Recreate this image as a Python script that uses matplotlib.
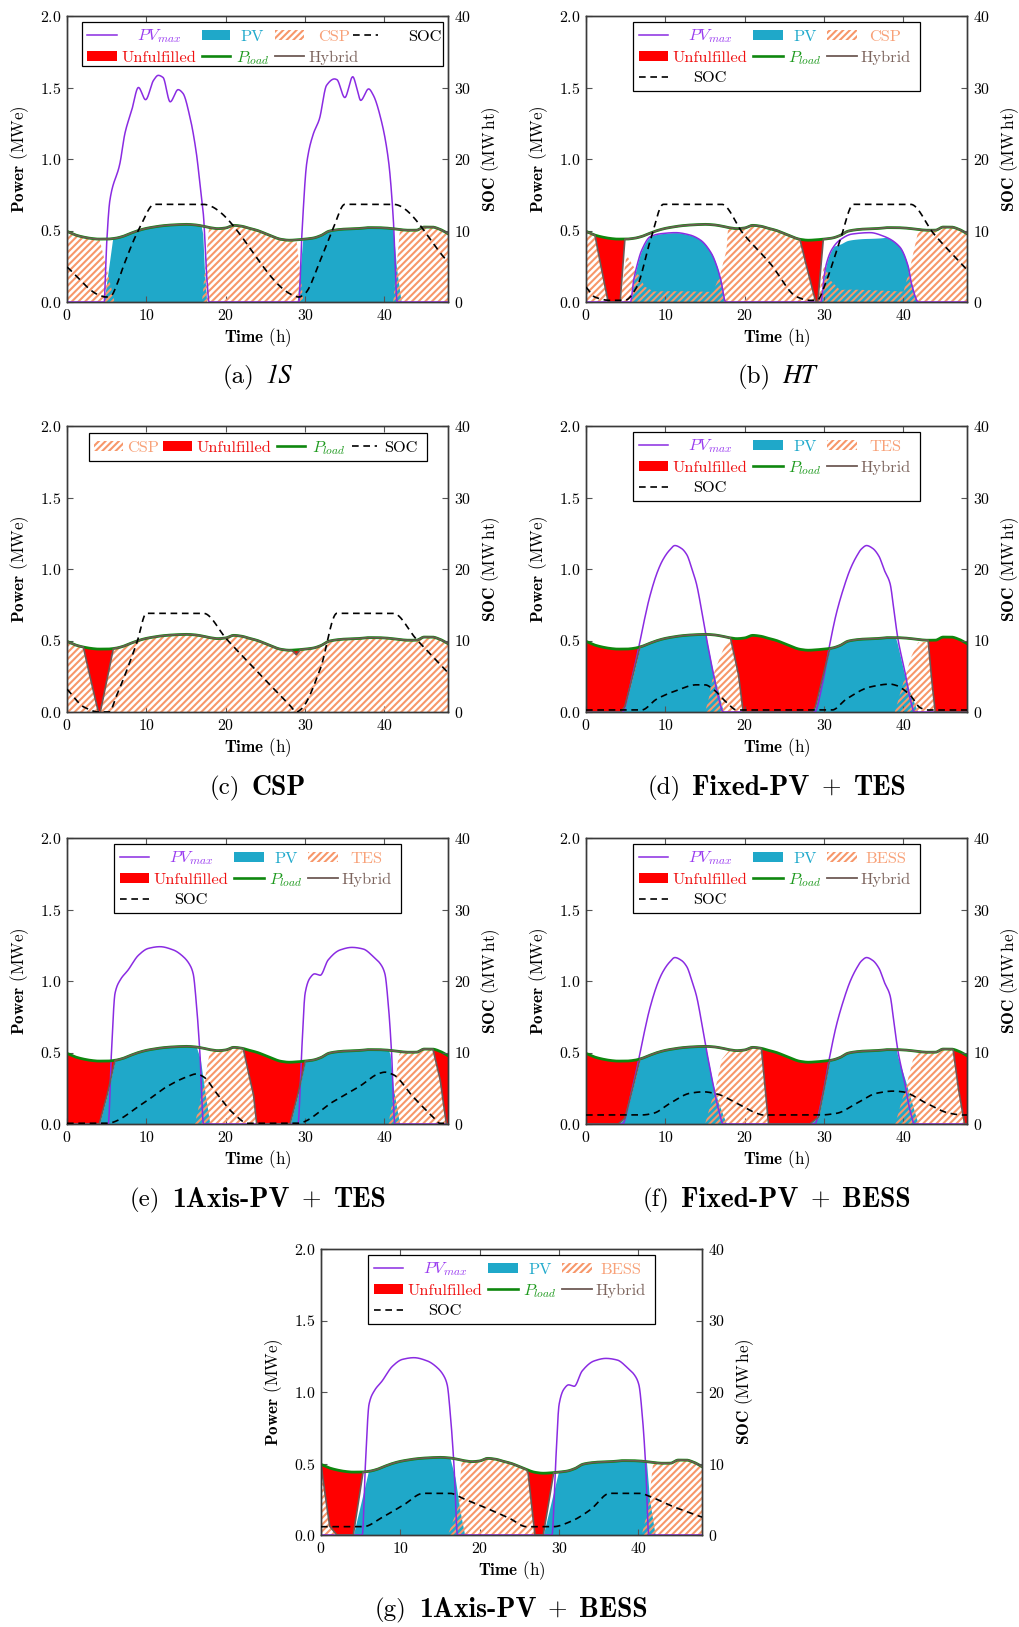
import numpy as np
import matplotlib
matplotlib.use('Agg')
import matplotlib.pyplot as plt
from matplotlib.patches import Rectangle
from matplotlib.lines import Line2D
from matplotlib.offsetbox import TextArea, HPacker, AnchoredOffsetbox

plt.rcParams.update({
    'font.family': 'cmr10',
    'mathtext.fontset': 'cm',
    'axes.formatter.use_mathtext': True,
    'axes.unicode_minus': False,
    'hatch.linewidth': 1.5,
})

# ---------------- data ----------------
HOURS = list(range(49))
LOAD = [0.494, 0.47, 0.455, 0.445, 0.44, 0.44, 0.445, 0.458, 0.48, 0.50, 0.515, 0.525,
        0.533, 0.538, 0.541, 0.543, 0.54, 0.532, 0.52, 0.513, 0.518, 0.536, 0.53, 0.515,
        0.50, 0.478, 0.455, 0.438, 0.432, 0.435, 0.44, 0.447, 0.465, 0.495, 0.505, 0.51,
        0.512, 0.515, 0.52, 0.52, 0.518, 0.513, 0.506, 0.502, 0.502, 0.524, 0.524, 0.508, 0.478]

# available PV power (MWe), (hour, value)
PVMAX_1S = [(0, 0), (4.7, 0), (4.8, 0.13), (5.0, 0.41), (5.4, 0.71), (6.67, 0.97), (7.3, 1.18),
            (8.15, 1.34), (9.0, 1.50), (9.9, 1.415), (10.9, 1.55), (11.5, 1.585), (12.1, 1.57),
            (13.0, 1.40), (14.0, 1.485), (14.6, 1.46), (15.5, 1.29), (16.3, 1.04), (16.8, 0.80),
            (17.2, 0.60), (17.6, 0.18), (17.9, 0),
            (29.2, 0), (29.6, 0.48), (30.2, 0.97), (31.0, 1.17), (31.8, 1.28), (32.7, 1.515),
            (33.7, 1.56), (34.0, 1.555), (35.0, 1.43), (36.0, 1.575), (36.5, 1.50), (37.0, 1.41),
            (38.0, 1.49), (38.6, 1.445), (39.5, 1.29), (40.5, 0.99), (41.1, 0.59), (41.6, 0), (48, 0)]
PVMAX_HT = [(0, 0), (5.6, 0), (6.0, 0.15), (6.4, 0.25), (7.0, 0.36), (8.1, 0.457), (9.5, 0.478),
            (11.3, 0.485), (13.0, 0.47), (14.4, 0.434), (15.8, 0.34), (16.5, 0.247), (17.0, 0.15),
            (17.6, 0),
            (29.6, 0), (30.0, 0.18), (30.3, 0.27), (31.0, 0.37), (32.0, 0.434), (33.5, 0.475),
            (35.8, 0.485), (37.5, 0.46), (39.5, 0.387), (40.6, 0.247), (41.0, 0.13), (41.9, 0), (48, 0)]
PVMAX_FIXED = [(0, 0), (4.6, 0), (5.5, 0.17), (6.6, 0.44), (7.3, 0.63), (8.0, 0.80), (9.0, 0.98),
               (9.7, 1.066), (10.5, 1.13), (11.2, 1.164), (12.0, 1.145), (12.7, 1.10), (13.4, 0.99),
               (13.9, 0.90), (14.6, 0.70), (15.2, 0.51), (16.0, 0.28), (16.7, 0.10), (17.3, 0),
               (28.8, 0), (29.7, 0.17), (30.7, 0.47), (31.5, 0.68), (32.4, 0.857), (33.3, 1.00),
               (34.1, 1.09), (34.7, 1.14), (35.35, 1.164), (36.1, 1.145), (36.9, 1.09), (37.6, 0.99),
               (38.3, 0.90), (38.8, 0.71), (39.3, 0.51), (40.2, 0.277), (40.8, 0.10), (41.4, 0), (48, 0)]
PVMAX_1AXIS = [(0, 0), (5.2, 0), (5.6, 0.5), (6.05, 0.914), (6.7, 1.007), (7.7, 1.077), (9.0, 1.18),
               (10.25, 1.228), (11.7, 1.24), (13.4, 1.217), (14.65, 1.17), (15.5, 1.11), (15.9, 1.05),
               (16.3, 0.84), (16.75, 0.49), (17.2, 0),
               (29.1, 0), (29.55, 0.49), (30.0, 0.914), (30.6, 1.02), (31.2, 1.05), (31.9, 1.04),
               (32.9, 1.147), (34.4, 1.217), (35.9, 1.235), (37.3, 1.224), (38.6, 1.17), (39.6, 1.11),
               (40.05, 1.05), (40.5, 0.82), (40.9, 0.49), (41.3, 0), (48, 0)]

# PV delivered, as share of load
PV_A = [(0, 0), (4.65, 0), (5.75, 1), (16.9, 1), (17.1, 0.9), (17.3, 0.45), (17.6, 0),
        (29.0, 0), (29.4, 0.56), (29.7, 1), (41.0, 1), (41.1, 0.97), (41.5, 0.48), (42.1, 0), (48, 0)]
PV_B = [(0, 1), (20, 1), (28, 0.87), (48, 0.87)]
PV_D = [(0, 0), (4.5, 0), (4.9, 0.08), (6.8, 1), (15.0, 1), (15.2, 0.93), (16.0, 0.52), (16.6, 0.3),
        (17.3, 0), (28.5, 0), (28.9, 0.08), (30.7, 1), (39.0, 1), (39.2, 0.93), (40.1, 0.52),
        (40.7, 0.3), (41.8, 0), (48, 0)]
PV_E = [(0, 0), (4.07, 0), (5.0, 0.43), (6.05, 1), (16.3, 1), (16.8, 0.85), (17.2, 0.55), (18.0, 0),
        (28.1, 0), (29.1, 0.48), (30.0, 1), (40.5, 1), (40.7, 0.95), (41.1, 0.5), (41.9, 0), (48, 0)]
PV_F = [(0, 0), (4.1, 0), (4.9, 0.09), (6.8, 1), (15.0, 1), (15.2, 0.93), (16.0, 0.52), (16.6, 0.3),
        (17.7, 0), (28.2, 0), (29.3, 0.11), (30.7, 1), (39.1, 1), (39.3, 0.9), (40.2, 0.6),
        (41.85, 0), (48, 0)]
PV_G = [(0, 0), (4.07, 0), (5.1, 0.55), (5.96, 1), (16.25, 1), (16.9, 0.75), (17.5, 0.33), (18.1, 0),
        (28.0, 0), (29.05, 0.56), (29.9, 1), (41.0, 1), (41.4, 0.48), (42.1, 0), (48, 0)]

# storage discharge (CSP / TES / BESS), as share of load
CSP_A = [(0, 1), (4.1, 1), (6.0, 0), (17.0, 0), (17.9, 1), (28.9, 1), (29.8, 0), (41.1, 0),
         (41.95, 1), (48, 1)]
CSP_B = [(0, 1), (1.13, 1), (2.8, 0), (4.3, 0), (5.1, 0.75), (6.4, 0.47), (7.4, 0.23), (8.5, 0.15),
         (16.0, 0.13), (16.9, 0.36), (17.7, 0.69), (17.9, 1), (26.95, 1), (28.8, 0.07), (29.0, 0),
         (29.2, 0), (30.0, 0.6), (30.8, 0.34), (32.0, 0.18), (40.0, 0.14), (40.9, 0.5), (41.9, 1), (48, 1)]
CSP_C = [(0, 1), (2.06, 1), (3.95, 0), (4.2, 0), (5.83, 1), (28.3, 1), (28.9, 0.92), (29.4, 1), (48, 1)]
TES_D = [(0, 0), (15.0, 0), (15.5, 0.19), (16.0, 0.47), (16.6, 0.64), (17.3, 0.83), (18.1, 1),
         (18.25, 0.96), (19.2, 0.52), (19.8, 0), (38.9, 0), (40.2, 0.48), (41.0, 0.76), (41.85, 0.96),
         (42.9, 0.98), (43.1, 0.9), (43.5, 0.5), (44.0, 0), (48, 0)]
TES_E = [(0, 0), (16.1, 0), (17.2, 0.5), (17.8, 0.86), (18.0, 0.97), (18.2, 1), (22.0, 1), (22.2, 0.95),
         (23.5, 0.4), (23.9, 0), (40.5, 0), (41.3, 0.5), (41.7, 0.88), (41.9, 0.97), (42.1, 1),
         (45.9, 1), (46.1, 0.98), (47.0, 0.62), (47.8, 0), (48, 0)]
BESS_F = [(0, 0), (15.0, 0), (16.45, 0.53), (17.1, 0.85), (18.1, 1), (21.9, 1), (22.1, 0.94), (23.0, 0),
          (38.95, 0), (40.4, 0.54), (41.2, 0.88), (41.85, 0.97), (42.0, 1), (46.05, 1), (46.25, 0.98),
          (46.9, 0.5), (47.7, 0), (48, 0)]
BESS_G = [(0, 1), (1.1, 0.13), (2.0, 0), (16.0, 0), (17.3, 0.38), (17.7, 0.97), (17.8, 1), (25.9, 1),
          (26.1, 0.95), (26.95, 0), (40.4, 0), (41.2, 0.35), (41.85, 1), (48, 1)]

# hybrid delivered power, as share of load (rest is unfulfilled)
HYB_A = [(0, 1), (48, 1)]
HYB_B = [(0, 1), (1.13, 1), (2.8, 0), (4.3, 0), (4.9, 1), (26.95, 1), (28.8, 0.07), (29.0, 0),
         (29.2, 0), (29.9, 1), (48, 1)]
HYB_C = [(0, 1), (2.06, 1), (3.95, 0), (4.2, 0), (5.83, 1), (28.3, 1), (28.9, 0.92), (29.4, 1), (48, 1)]
HYB_D = [(0, 0), (4.4, 0), (4.9, 0.09), (6.8, 1), (18.2, 1), (19.2, 0.52), (19.8, 0), (28.5, 0),
         (28.9, 0.08), (30.7, 1), (43.1, 1), (43.5, 0.5), (44.0, 0), (48, 0)]
HYB_E = [(0, 0), (4.07, 0), (5.0, 0.43), (6.05, 1), (22.2, 1), (23.5, 0.4), (23.9, 0), (28.1, 0),
         (29.1, 0.48), (30.0, 1), (46.1, 1), (47.0, 0.62), (47.8, 0), (48, 0)]
HYB_F = [(0, 0), (4.07, 0), (4.9, 0.09), (6.8, 1), (22.1, 1), (23.0, 0), (28.2, 0), (29.3, 0.11),
         (30.7, 1), (46.25, 1), (46.9, 0.5), (47.7, 0), (48, 0)]
HYB_G = [(0, 1), (1.1, 0.13), (2.0, 0), (4.07, 0), (5.3, 1), (25.9, 1), (26.1, 0.95), (26.95, 0),
         (28.0, 0), (29.3, 1), (48, 1)]

# state of charge (MWh)
SOC_A = [(0, 4.9), (4.1, 0.93), (4.9, 0.7), (5.6, 0.93), (6.3, 2.5), (7.1, 5.0), (9.2, 10.5),
         (11.0, 13.66), (17.1, 13.66), (28.5, 0.93), (29.2, 0.7), (30.0, 1.2), (31.9, 5.8),
         (33.6, 10.5), (35.0, 13.66), (41.1, 13.66), (48, 5.6)]
SOC_B = [(0, 2.1), (1.1, 0.7), (3.0, 0.23), (4.9, 0.23), (6.4, 2.1), (8.1, 8.6), (9.75, 13.66),
         (17.1, 13.66), (19.8, 9.56), (23.2, 5.4), (26.6, 0.7), (28.2, 0.23), (29.1, 0.23), (30.3, 3.0),
         (32.0, 8.6), (33.7, 13.66), (40.9, 13.66), (43.8, 9.56), (48, 4.5)]
SOC_C = [(0, 3.2), (2.2, 0.65), (4.0, 0), (5.3, 0), (6.25, 2.3), (8.8, 9.7), (10.0, 13.8), (17.2, 13.8),
         (20.1, 10.2), (23.5, 6.2), (28.1, 0.9), (28.9, 0), (29.5, 0.4), (31.9, 6.0), (34.0, 13.8),
         (41.1, 13.8), (44.0, 10.2), (48, 5.5)]
SOC_D = [(0, 0.28), (7.0, 0.28), (8.9, 1.8), (11.4, 3.0), (13.9, 3.8), (15.0, 3.8), (16.0, 3.2),
         (17.7, 1.35), (19.0, 0.28), (31.0, 0.28), (32.8, 1.8), (35.8, 3.5), (38.3, 3.9), (39.0, 3.75),
         (40.8, 2.4), (42.1, 0.6), (43.0, 0.28), (48, 0.28)]
SOC_E = [(0, 0.1), (5.0, 0.1), (9.6, 2.9), (12.55, 5.2), (15.1, 6.6), (16.3, 7.0), (17.2, 6.6),
         (18.85, 4.3), (20.95, 1.5), (22.8, 0.1), (29.0, 0.1), (33.5, 3.1), (36.9, 5.3), (39.4, 7.1),
         (40.05, 7.25), (41.1, 6.9), (43.6, 3.8), (46.1, 1.0), (47.0, 0.1), (48, 0.1)]
SOC_F = [(0, 1.26), (7.0, 1.26), (8.5, 1.5), (10.6, 2.9), (13.1, 4.3), (14.8, 4.5), (16.5, 4.2),
         (19.0, 2.9), (21.5, 1.5), (22.3, 1.26), (29.5, 1.26), (31.6, 1.5), (34.1, 2.9), (36.6, 4.3),
         (38.7, 4.6), (39.9, 4.5), (42.9, 2.9), (45.8, 1.5), (47.5, 1.26), (48, 1.26)]
SOC_G = [(0, 1.16), (5.3, 1.16), (7.85, 2.56), (10.4, 4.2), (12.9, 5.83), (16.25, 5.83), (17.9, 5.1),
         (20.4, 3.96), (23.8, 2.3), (25.9, 1.16), (29.26, 1.16), (31.4, 1.86), (33.9, 3.5),
         (36.4, 5.83), (40.2, 5.83), (41.4, 5.4), (44.4, 3.96), (48, 2.5)]

X_TICKS = [0, 10, 20, 30, 40]
Y_TICKS = [0.0, 0.5, 1.0, 1.5, 2.0]
SOC_TICKS = [0, 10, 20, 30, 40]

# ---------------- style ----------------
PURPLE = '#8A2BE2'
BLUE = '#1FA8C9'
ORANGE = '#F7976A'
RED = '#FF0000'
GREEN = '#0E870E'
BROWN = '#6E5A55'
TXT = dict(pvmax='#9A3CF0', pv='#22AACC', sto='#F8A178', unf='#F01010', load='#1E9A1E', hyb='#7D655E')
HATCH = '/////'

W, H = 1020, 1627
AX_W, AX_H = 381, 286


def pchip(pts, x):
    xk = np.array([p[0] for p in pts], float)
    yk = np.array([p[1] for p in pts], float)
    h = np.diff(xk)
    d = np.diff(yk) / h
    m = np.zeros_like(yk)
    for k in range(1, len(xk) - 1):
        if d[k - 1] * d[k] > 0:
            w1 = 2 * h[k] + h[k - 1]
            w2 = h[k] + 2 * h[k - 1]
            m[k] = (w1 + w2) / (w1 / d[k - 1] + w2 / d[k])
    m[0] = d[0]
    m[-1] = d[-1]
    i = np.clip(np.searchsorted(xk, x, side='right') - 1, 0, len(xk) - 2)
    s = (x - xk[i]) / h[i]
    h00 = 2 * s**3 - 3 * s**2 + 1
    h10 = s**3 - 2 * s**2 + s
    h01 = -2 * s**3 + 3 * s**2
    h11 = s**3 - s**2
    return h00 * yk[i] + h10 * h[i] * m[i] + h01 * yk[i + 1] + h11 * h[i] * m[i + 1]


def lin(pts, x):
    return np.interp(x, [p[0] for p in pts], [p[1] for p in pts])


LEG = {
    'three': dict(box=(0.124, 0.739, 0.877, 0.978), rows=[0.934, 0.860, 0.788],
                  cols=[(0.140, 0.216, 0.326), (0.4375, 0.516, 0.575), (0.632, 0.710, 0.786)],
                  slots=dict(pvmax=(0, 0), pv=(0, 1), sto=(0, 2), unf=(1, 0), load=(1, 1), hyb=(1, 2), soc=(2, 0))),
    'wide': dict(box=(0.0385, 0.826, 0.986, 0.98), rows=[0.934, 0.860],
                 cols=[(0.0533, 0.130, 0.241), (0.354, 0.428, 0.487), (0.546, 0.622, 0.700), (0.751, 0.817, 0.938)],
                 slots=dict(pvmax=(0, 0), pv=(0, 1), sto=(0, 2), soc=(0, 3), unf=(1, 0), load=(1, 1), hyb=(1, 2))),
    'single': dict(box=(0.0585, 0.879, 0.944, 0.975), rows=[0.930],
                   cols=[(0.0717, 0.148, 0.199), (0.253, 0.329, 0.439), (0.550, 0.625, 0.686), (0.747, 0.813, 0.875)],
                   slots=dict(sto=(0, 0), unf=(0, 1), load=(0, 2), soc=(0, 3))),
}

REG = dict(family='cmr10', fontsize=18)
BOLD = dict(family='cmb10', fontsize=20)
ITAL = dict(family='STIXGeneral', style='italic', fontsize=19)

PANELS = [
    dict(left=67, top=16, pvmax=PVMAX_1S, pv=PV_A, cap=False, sto=CSP_A, hyb=HYB_A, soc=SOC_A,
         sto_name='CSP', leg='wide', unit='ht', cap_y=377,
         caption=[('(a)', REG), ('1S', ITAL)]),
    dict(left=586, top=16, pvmax=PVMAX_HT, pv=PV_B, cap=True, sto=CSP_B, hyb=HYB_B, soc=SOC_B,
         sto_name='CSP', leg='three', unit='ht', cap_y=377,
         caption=[('(b)', REG), ('HT', ITAL)]),
    dict(left=67, top=426, pvmax=None, pv=None, cap=False, sto=CSP_C, hyb=HYB_C, soc=SOC_C,
         sto_name='CSP', leg='single', unit='ht', cap_y=788,
         caption=[('(c)', REG), ('CSP', BOLD)]),
    dict(left=586, top=426, pvmax=PVMAX_FIXED, pv=PV_D, cap=False, sto=TES_D, hyb=HYB_D, soc=SOC_D,
         sto_name='TES', leg='three', unit='ht', cap_y=788,
         caption=[('(d)', REG), ('Fixed-PV', BOLD), ('+', REG), ('TES', BOLD)]),
    dict(left=67, top=838, pvmax=PVMAX_1AXIS, pv=PV_E, cap=False, sto=TES_E, hyb=HYB_E, soc=SOC_E,
         sto_name='TES', leg='three', unit='ht', cap_y=1200,
         caption=[('(e)', REG), ('1Axis-PV', BOLD), ('+', REG), ('TES', BOLD)]),
    dict(left=586, top=838, pvmax=PVMAX_FIXED, pv=PV_F, cap=False, sto=BESS_F, hyb=HYB_F, soc=SOC_F,
         sto_name='BESS', leg='three', unit='he', cap_y=1200,
         caption=[('(f)', REG), ('Fixed-PV', BOLD), ('+', REG), ('BESS', BOLD)]),
    dict(left=321, top=1249, pvmax=PVMAX_1AXIS, pv=PV_G, cap=False, sto=BESS_G, hyb=HYB_G, soc=SOC_G,
         sto_name='BESS', leg='three', unit='he', cap_y=1610,
         caption=[('(g)', REG), ('1Axis-PV', BOLD), ('+', REG), ('BESS', BOLD)]),
]

fig = plt.figure(figsize=(W / 100, H / 100), dpi=100)
t = np.linspace(0, 48, 2401)
load = pchip(list(zip(HOURS, LOAD)), t)

LEG_FS = 11.8
SPINE = '#3a3a3a'


def draw_legend(ax, p):
    L = LEG[p['leg']]
    x0, y0, x1, y1 = L['box']
    tr = ax.transAxes
    ax.add_patch(Rectangle((x0, y0), x1 - x0, y1 - y0, transform=tr, facecolor='white',
                           edgecolor='black', lw=0.9, zorder=20, clip_on=False))
    labels = dict(pvmax=r'$PV_{max}$', pv='PV', sto=p['sto_name'], unf='Unfulfilled',
                  load=r'$P_{load}$', hyb='Hybrid', soc='SOC')
    ph = 0.0374
    for key, (r, c) in L['slots'].items():
        hx0, hx1, tx = L['cols'][c]
        ry = L['rows'][r]
        if key == 'pvmax':
            ax.add_line(Line2D([hx0, hx1], [ry, ry], transform=tr, color=PURPLE, lw=1.1, zorder=21))
        elif key == 'pv':
            ax.add_patch(Rectangle((hx0, ry - ph / 2), hx1 - hx0, ph, transform=tr, facecolor=BLUE,
                                   lw=0, zorder=21))
        elif key == 'unf':
            ax.add_patch(Rectangle((hx0, ry - ph / 2), hx1 - hx0, ph, transform=tr, facecolor=RED,
                                   lw=0, zorder=21))
        elif key == 'sto':
            ax.add_patch(Rectangle((hx0, ry - ph / 2), hx1 - hx0, ph, transform=tr, facecolor='white',
                                   edgecolor=ORANGE, hatch=HATCH, lw=0, zorder=21))
        elif key == 'load':
            ax.add_line(Line2D([hx0, hx1], [ry, ry], transform=tr, color=GREEN, lw=1.9, zorder=21))
        elif key == 'hyb':
            ax.add_line(Line2D([hx0, hx1], [ry, ry], transform=tr, color=BROWN, lw=1.3, zorder=21))
        elif key == 'soc':
            ax.add_line(Line2D([hx0, hx1], [ry, ry], transform=tr, color='black', lw=1.2,
                               ls=(0, (4, 2.8)), zorder=21))
        col = TXT.get(key, 'black')
        ax.text(tx, ry - 0.02, labels[key], transform=tr, ha='center', va='baseline',
                fontsize=LEG_FS, color=col, zorder=22)


for p in PANELS:
    rect = [p['left'] / W, 1 - (p['top'] + AX_H) / H, AX_W / W, AX_H / H]
    ax = fig.add_axes(rect)
    ax2 = ax.twinx()

    if p['pv'] is not None:
        pv = lin(p['pv'], t) * load
        pvmax = pchip(p['pvmax'], t)
        if p['cap']:
            pv = np.minimum(pv, pvmax)
        ax.fill_between(t, 0, pv, color=BLUE, lw=0, zorder=1)
    hyb = lin(p['hyb'], t) * load
    sto = lin(p['sto'], t) * load
    ax.fill_between(t, hyb, load, where=(load - hyb) > 1e-4, interpolate=True, color=RED, lw=0, zorder=1)
    ax.fill_between(t, 0, sto, facecolor='none', edgecolor=ORANGE, hatch=HATCH, lw=0, zorder=2)
    if p['pvmax'] is not None:
        ax.plot(t, pvmax, color=PURPLE, lw=1.1, zorder=3)
    ax.plot(t, load, color=GREEN, lw=2.0, zorder=4)
    ax.plot(t, hyb, color=BROWN, lw=1.2, zorder=5)
    ax2.plot(t, pchip(p['soc'], t), color='black', lw=1.2, ls=(0, (4, 2.8)), zorder=6)

    ax.set_xlim(0, 48)
    ax.set_ylim(0, 2.0)
    ax2.set_ylim(0, 40)
    ax.set_xticks(X_TICKS)
    ax.set_yticks(Y_TICKS)
    ax2.set_yticks(SOC_TICKS)
    ax.tick_params(direction='in', length=4.5, width=0.8, color='#555555', labelsize=11.4,
                   pad=4, top=True, right=False)
    ax2.tick_params(direction='in', length=4.5, width=0.8, color='#555555', labelsize=11.4, pad=4)
    for a in (ax, ax2):
        for s in a.spines.values():
            s.set_color(SPINE)
            s.set_linewidth(1.0)

    ax.text(-0.123, 0.5, r'$\mathbf{Power}$ (MWe)', transform=ax.transAxes, rotation=90,
            ha='center', va='center', fontsize=12.3)
    ax.text(1.113, 0.5, r'$\mathbf{SOC}$ (MW$\,$' + p['unit'] + ')', transform=ax.transAxes,
            rotation=90, ha='center', va='center', fontsize=12.3)
    ax.text(0.5, -0.126, r'$\mathbf{Time}$ (h)', transform=ax.transAxes, ha='center',
            va='center', fontsize=12.3)

    draw_legend(ax2, p)

    boxes = [TextArea(txt, textprops=props) for txt, props in p['caption']]
    pack = HPacker(children=boxes, align='baseline', pad=0, sep=8.5)
    anch = AnchoredOffsetbox(loc='center', child=pack, pad=0, borderpad=0, frameon=False,
                             bbox_to_anchor=((p['left'] + AX_W / 2) / W, 1 - p['cap_y'] / H),
                             bbox_transform=fig.transFigure)
    fig.add_artist(anch)

fig.savefig('out.png', dpi=100)
